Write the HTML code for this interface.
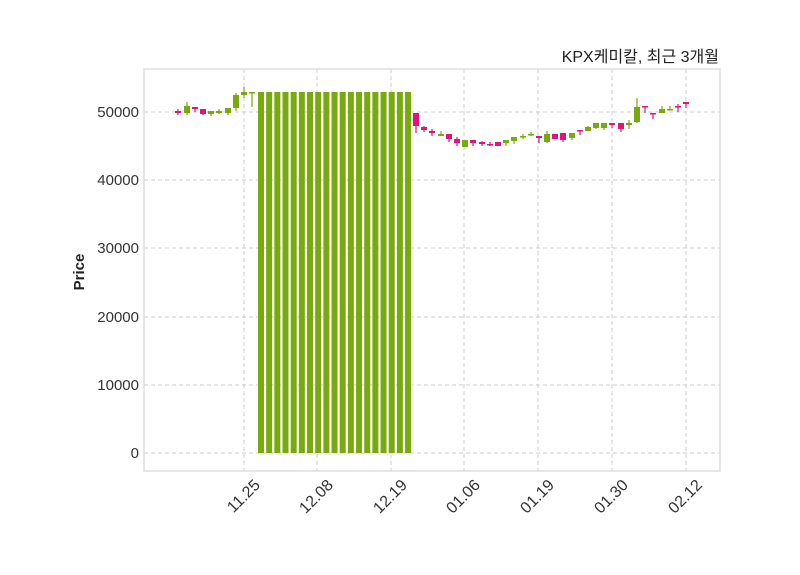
<!DOCTYPE html>
<html><head><meta charset="utf-8"><style>
html,body{margin:0;padding:0;background:#fff}
svg{display:block;font-family:"Liberation Sans","Noto Sans CJK KR",sans-serif}
</style></head><body>
<svg id="s" width="800" height="575" viewBox="0 0 800 575" xmlns="http://www.w3.org/2000/svg">
<rect width="800" height="575" fill="#fff"/>
<g id="grid" stroke="#cccccc" stroke-dasharray="4,3" stroke-width="1">
<line x1="144" x2="720" y1="453" y2="453"/><line x1="144" x2="720" y1="385" y2="385"/>
<line x1="144" x2="720" y1="317" y2="317"/><line x1="144" x2="720" y1="248" y2="248"/>
<line x1="144" x2="720" y1="180" y2="180"/><line x1="144" x2="720" y1="112" y2="112"/>
<line x1="244" x2="244" y1="69" y2="471"/><line x1="317" x2="317" y1="69" y2="471"/>
<line x1="391" x2="391" y1="69" y2="471"/><line x1="464" x2="464" y1="69" y2="471"/>
<line x1="538" x2="538" y1="69" y2="471"/><line x1="612" x2="612" y1="69" y2="471"/>
<line x1="686" x2="686" y1="69" y2="471"/>
</g>
<rect x="144" y="69" width="576" height="402" fill="none" stroke="#dddddd" stroke-width="1.5"/>
<g id="c"></g>
<g font-size="15" fill="#333" text-anchor="end">
<text x="139" y="458">0</text><text x="139" y="390">10000</text><text x="139" y="322">20000</text>
<text x="139" y="253">30000</text><text x="139" y="185">40000</text><text x="139" y="117">50000</text>
</g>
<g font-size="16" fill="#333" text-anchor="end">
<text transform="translate(261,486) rotate(-45)">11.25</text>
<text transform="translate(334,486) rotate(-45)">12.08</text>
<text transform="translate(408,486) rotate(-45)">12.19</text>
<text transform="translate(481,486) rotate(-45)">01.06</text>
<text transform="translate(555,486) rotate(-45)">01.19</text>
<text transform="translate(629,486) rotate(-45)">01.30</text>
<text transform="translate(703,486) rotate(-45)">02.12</text>
</g>
<text transform="translate(84,272) rotate(-90)" text-anchor="middle" font-size="15" font-weight="bold" fill="#222">Price</text>
<text x="719" y="62" text-anchor="end" font-size="16" fill="#222">KPX케미칼, 최근 3개월</text>
</svg>
<script>
var G="#78a90d",P="#e0157a";
var d=[
[178,P,111,113,109,115],[187,G,106,113,102,115],[195,P,107,109,107,112],[203,P,109,114,109,115],
[211,G,111,114,111,116],[219,G,111,113,109,114],[228,G,108,113,108,115],[236,G,95,108,93,111],
[244,G,92,95,87,98],[252,G,92,93,92,107],
[416,P,113,126,113,133],[424,P,127,130,126,132],[432,P,131,133,129,136],[441,G,134,136,131,136],
[449,P,134,139,134,142],[457,P,139,143,137,146],[465,G,140,147,140,147],[473,P,140,143,140,146],
[482,P,142,144,141,146],[490,P,144,145,142,146],[498,P,142,146,142,146],[506,G,140,143,140,146],
[514,G,137,141,137,144],[523,G,136,137,134,139],[531,G,134,135,132,136],[539,P,136,138,136,143],
[547,G,134,142,131,143],[555,P,134,139,134,139],[563,P,133,140,133,142],[572,G,133,138,133,140],
[580,P,130,131,130,135],[588,G,127,131,126,131],[596,G,123,128,123,129],[604,G,123,128,123,130],
[612,P,123,125,123,128],[621,P,123,129,123,132],[629,G,123,125,120,129],[637,G,107,122,98,123],
[645,P,106,107,106,113],[653,P,113,114,113,119],[662,G,109,113,106,113],[670,G,109,110,106,110],
[678,P,106,107,104,112],[686,P,102,104,102,108]];
for(var i=0;i<19;i++)d.push([261+i*8.17,G,92,453,92,453]);
var h="";
d.forEach(function(c){var x=c[0];
h+='<line x1="'+x+'" x2="'+x+'" y1="'+c[4]+'" y2="'+c[5]+'" stroke="'+c[1]+'" stroke-width="1.2"/>';
h+='<rect x="'+(x-3)+'" y="'+c[2]+'" width="6" height="'+Math.max(1.5,c[3]-c[2])+'" fill="'+c[1]+'"/>';});
document.getElementById("c").innerHTML=h;
</script>
</body></html>
